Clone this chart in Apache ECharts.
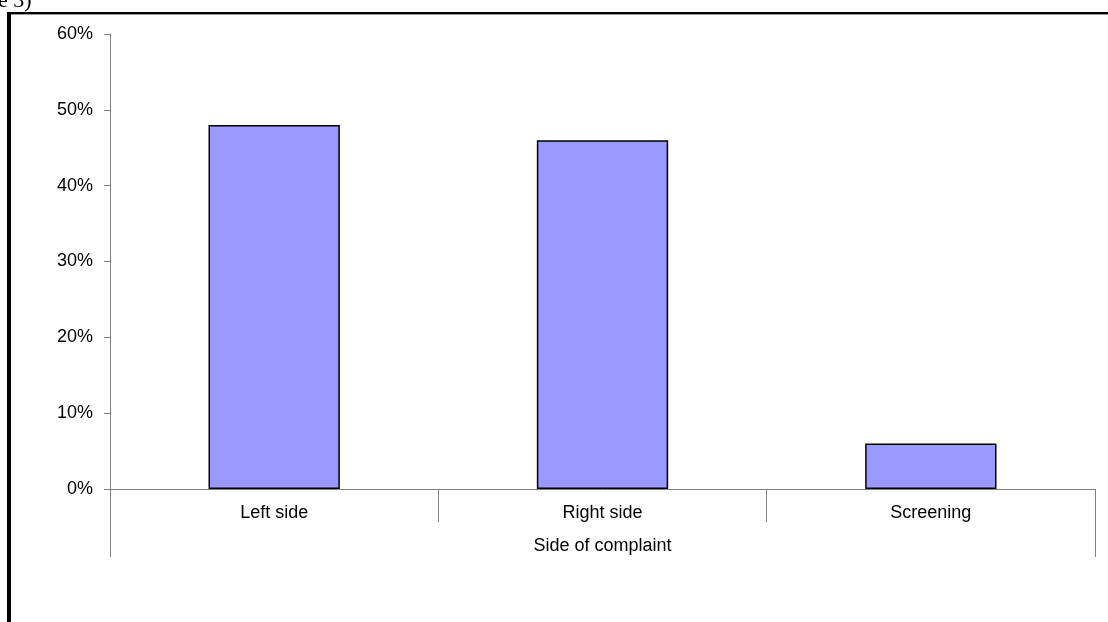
<!DOCTYPE html>
<html>
<head>
    <meta charset="utf-8">
    <title></title>
    <style>
        body{ margin: 0; background: #fff; }
        #chart{ width: 1108px; height: 622px; }
    </style>
    <script src="https://cdn.jsdelivr.net/npm/echarts@6/dist/echarts.min.js"></script>
</head>
<body>
<div id="chart"></div>
<script>
    // data
    var categories = ['Left side', 'Right side', 'Screening'];
    var shares = [0.48, 0.46, 0.06];
    var groupLabel = ['Side of complaint'];

    var font = 'Liberation Sans, Arial, sans-serif';
    var axisGrey = '#808080';

    var chart = echarts.init(document.getElementById('chart'));
    var option = {
        animation: false,
        grid: { left: 110, right: 13, top: 34, bottom: 133 },
        graphic: [
            // outer frame (top and left edge)
            { type: 'rect', shape: { x: 8, y: 12, width: 1100, height: 2 }, style: { fill: '#000' } },
            { type: 'rect', shape: { x: 8, y: 14, width: 1100, height: 1 }, style: { fill: '#999' } },
            { type: 'rect', shape: { x: 7, y: 12, width: 4, height: 610 }, style: { fill: '#000' } },
            { type: 'text', style: { x: -2, y: 12, text: 'e 3)', verticalAlign: 'bottom', font: '22px "Liberation Serif", serif', fill: '#000' } }
        ],
        xAxis: [
            {
                type: 'category',
                data: categories,
                position: 'bottom',
                axisLine: { lineStyle: { color: axisGrey, width: 1 } },
                axisTick: { show: true, interval: 0, length: 33, lineStyle: { color: axisGrey } },
                axisLabel: { color: '#000', fontFamily: font, fontSize: 18, margin: 15 },
                splitLine: { show: false }
            },
            {
                type: 'category',
                data: groupLabel,
                position: 'bottom',
                gridIndex: 0,
                offset: 0,
                axisLine: { show: false },
                axisTick: { show: true, interval: 0, length: 68, lineStyle: { color: axisGrey } },
                axisLabel: { color: '#000', fontFamily: font, fontSize: 18, margin: 48 },
                splitLine: { show: false }
            }
        ],
        yAxis: {
            type: 'value',
            min: 0,
            max: 0.6,
            interval: 0.1,
            axisLine: { show: true, lineStyle: { color: axisGrey } },
            axisTick: { show: true, length: 6, lineStyle: { color: axisGrey } },
            axisLabel: {
                color: '#000', fontFamily: font, fontSize: 18, margin: 17,
                formatter: function (v) { return Math.round(v * 100) + '%'; }
            },
            splitLine: { show: false }
        },
        series: [{
            type: 'bar',
            xAxisIndex: 0,
            data: shares,
            barWidth: '40%',
            itemStyle: { color: '#9999FF', borderColor: '#000', borderWidth: 1.5 }
        }]
    };
    chart.setOption(option);
</script>
</body>
</html>
